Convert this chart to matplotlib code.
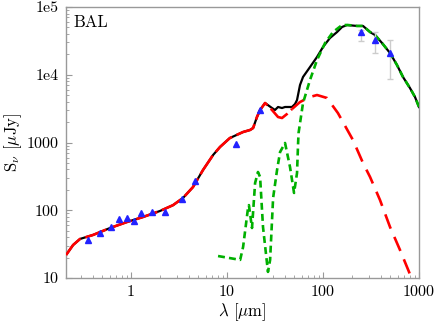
import matplotlib
matplotlib.use("Agg")
import matplotlib.pyplot as plt
from matplotlib.ticker import FixedLocator, FixedFormatter, LogLocator, NullFormatter

plt.rcParams['font.family'] = 'serif'
plt.rcParams['font.serif'] = ['cmr10', 'DejaVu Serif']
plt.rcParams['mathtext.fontset'] = 'cm'
plt.rcParams['lines.scale_dashes'] = False

# total model (black)
tot_x = [0.210, 0.249, 0.294, 0.402, 0.604, 0.909, 1.33, 2.00, 2.74, 3.48, 4.42, 5.62,
         7.15, 8.45, 10.7, 14.7, 17.4, 18.7, 20.5, 22.1, 24.9, 29.4, 31.6, 34.0, 37.4,
         40.2, 47.5, 51.1, 53.6, 57.6, 61.9, 73.2, 86.6, 100, 118, 140, 158, 178, 226,
         261, 309, 348, 412, 499, 590, 681, 805, 908, 1000]
tot_y = [21.8, 30.7, 37.7, 43.2, 54.7, 67.1, 79.4, 97.5, 119, 152, 220, 393,
         653, 859, 1164, 1429, 1531, 1637, 2377, 3020, 3828, 3228, 3020, 3343, 3228,
         3343, 3343, 3700, 4236, 7063, 9270, 13000, 18300, 25700, 34800, 42700, 50700, 54200, 52500,
         52500, 42700, 38600, 29400, 20900, 13900, 9270, 6370, 4700, 3340]

# stellar + AGN (red, near-solid)
agn_x = [0.210, 0.249, 0.294, 0.402, 0.604, 0.909, 1.33, 2.00, 2.74, 3.48, 4.42, 5.62,
         7.15, 8.45, 10.7, 14.7, 17.4, 18.7, 20.5, 22.1, 24.9, 29.4, 34.0, 37.4, 42.2, 47.5]
agn_y = [21.8, 30.7, 37.7, 43.2, 54.7, 67.1, 79.4, 97.5, 119, 152, 220, 393,
         653, 859, 1164, 1429, 1531, 1637, 2377, 3020, 3828, 3020, 2377, 2300, 2640, 3120]

# cold component (red, long dashes)
cold_x = [47.5, 57.6, 73.2, 86.6, 110, 143, 205, 261, 309, 392, 499, 634, 787, 830]
cold_y = [3120, 3960, 4700, 5020, 4540, 2720, 1089, 498, 310, 142, 56.6, 25.9, 12.3, 10]

# starburst (green, dashed)
sb_x = [8.06, 13.7, 14.7, 16.6, 16.9, 18.2, 19.6, 21.0, 22.1, 23.7, 26.7, 28.1, 30.2,
        33.2, 35.7, 40.2, 45.3, 49.9, 53.6, 54.9, 55.6, 61.9, 73.2, 86.6, 105, 127,
        158, 182, 226, 261, 309, 348, 412, 499, 590, 681, 805, 908, 1000]
sb_y = [21.1, 18.5, 28.7, 112, 119, 54.7, 252, 367, 310, 56.6, 12.3, 18.5, 152,
        393, 724, 984, 435, 180, 355, 918, 1380, 3830, 8380, 16500, 29400, 42700,
        54200, 54200, 52500, 52500, 42700, 38600, 29400, 20900, 13900, 9270, 6370, 4700, 3340]

# photometry
obs_x = [0.356, 0.475, 0.619, 0.750, 0.909, 1.07, 1.27, 1.65, 2.26, 3.40, 4.64, 12.4, 22.1]
obs_y = [36.4, 46.1, 56.6, 74.3, 76.9, 69.4, 91.0, 94.2, 93.0, 146.6, 270, 950, 3020]
fir_x = [250, 350, 500]
fir_y = [42800, 32600, 20900]
fir_lo = [31000, 20900, 8650]
fir_hi = [46000, 42800, 32600]

fig = plt.figure(figsize=(4.36, 3.23), dpi=100)
ax = fig.add_axes([66 / 436, 1 - 278 / 323, 353 / 436, 271 / 323])

ax.plot(tot_x, tot_y, color='black', lw=1.6, zorder=2)
l1, = ax.plot(agn_x, agn_y, color='#ff0000', lw=1.9, zorder=3)
l1.set_dashes((16, 3.5))
l2, = ax.plot(cold_x, cold_y, color='#ff0000', lw=1.9, zorder=3)
l2.set_dashes((11, 6.5))
l3, = ax.plot(sb_x, sb_y, color='#00b000', lw=1.9, zorder=4)
l3.set_dashes((5, 3))

ax.errorbar(fir_x, fir_y,
            yerr=[[y - lo for y, lo in zip(fir_y, fir_lo)], [hi - y for y, hi in zip(fir_y, fir_hi)]],
            fmt='none', ecolor='#cccccc', elinewidth=1, capsize=2.5, zorder=5)
ax.plot(obs_x + fir_x, obs_y + fir_y, '^', color='#2222ff', ms=4, mec='#2222ff', zorder=6)

ax.set_xscale('log')
ax.set_yscale('log')
ax.set_xlim(0.21, 1000)
ax.set_ylim(10, 1e5)

ax.xaxis.set_major_locator(FixedLocator([1, 10, 100, 1000]))
ax.xaxis.set_major_formatter(FixedFormatter(['1', '10', '100', '1000']))
ax.yaxis.set_major_locator(FixedLocator([10, 100, 1000, 1e4, 1e5]))
ax.yaxis.set_major_formatter(FixedFormatter(['10', '100', '1000', '1e4', '1e5']))
ax.xaxis.set_minor_locator(LogLocator(base=10, subs=range(2, 10), numticks=20))
ax.yaxis.set_minor_locator(LogLocator(base=10, subs=range(2, 10), numticks=20))
ax.xaxis.set_minor_formatter(NullFormatter())
ax.yaxis.set_minor_formatter(NullFormatter())

ax.tick_params(which='both', direction='in', color='#999999', labelsize=11.5, pad=5)
ax.tick_params(which='major', length=4.5, width=0.8)
ax.tick_params(which='minor', length=2.5, width=0.6)
for s in ax.spines.values():
    s.set_color('#999999')
    s.set_linewidth(1)

ax.set_xlabel(r'$\lambda$ [$\mu$m]', fontsize=12, labelpad=2)
ax.set_ylabel(r'S$_\nu$ [$\mu$Jy]', fontsize=12, labelpad=2)
ax.text(0.02, 0.945, 'BAL', transform=ax.transAxes, fontsize=12, va='center', ha='left')

fig.savefig('out.png', dpi=100)
